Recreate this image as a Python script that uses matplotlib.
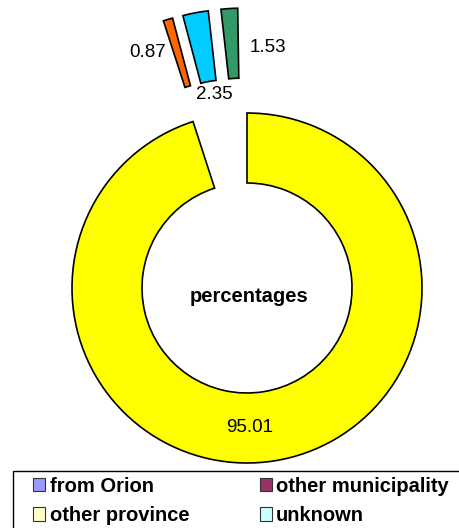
import matplotlib
matplotlib.use("Agg")
import matplotlib.pyplot as plt
from matplotlib.patches import Patch, Rectangle

plt.rcParams['font.family'] = ['Liberation Sans', 'DejaVu Sans']

# slices (percent), drawn clockwise from the top
slice_values = [95.01, 0.87, 2.35, 1.53]
slice_colors = ["#FFFF00", "#FF6600", "#00CCFF", "#339966"]
slice_explode = [0.0, 0.6, 0.6, 0.6]

# where each value label sits (data units)
label_pos = [(0.017, -0.80), (-0.566, 1.343), (-0.189, 1.103), (0.12, 1.377)]

legend_names = ["from Orion", "other municipality", "other province", "unknown"]
legend_colors = ["#9999FF", "#993366", "#FFFFCC", "#CCFFFF"]

W, H = 459, 528
R = 175.0          # pixels per unit radius
cx, cy = 247, 288  # pie centre in pixels

fig = plt.figure(figsize=(W / 100, H / 100), dpi=100)
ax = fig.add_axes([0, 0, 1, 1])

ax.pie([v / 100 for v in slice_values], colors=slice_colors, explode=slice_explode,
       startangle=90, counterclock=False, normalize=False,
       wedgeprops=dict(width=0.4, edgecolor="black", linewidth=1.2))

for v, (x, y) in zip(slice_values, label_pos):
    ax.text(x, y, f"{v:.2f}", ha="center", va="center", fontsize=13.5)

ax.text(0.011, -0.05, "percentages", ha="center", va="center",
        fontsize=14.5, fontweight="bold")

ax.set_xlim(-cx / R, (W - cx) / R)
ax.set_ylim(-(H - cy) / R, cy / R)
ax.set_aspect("auto")
ax.axis("off")

# legend
handles = [Patch(facecolor=c, edgecolor="#333333", linewidth=0.8) for c in legend_colors]
# order so that ncol=2 fills row by row
order = [0, 2, 1, 3]
fig.legend([handles[i] for i in order], [legend_names[i] for i in order],
           ncol=2, frameon=False, loc="upper left",
           bbox_to_anchor=(33 / W, 1 - 477 / H),
           prop=dict(family="Liberation Sans", weight="bold", size=14.5),
           handlelength=0.62, handleheight=0.62, handletextpad=0.2,
           labelspacing=0.5, columnspacing=3.5, borderpad=0, borderaxespad=0)

fig.patches.append(Rectangle((13 / W, -0.1), 1.0, (H - 471) / H + 0.1,
                             transform=fig.transFigure, fill=False,
                             edgecolor="black", linewidth=1.0))

fig.savefig("out.png", dpi=100)
